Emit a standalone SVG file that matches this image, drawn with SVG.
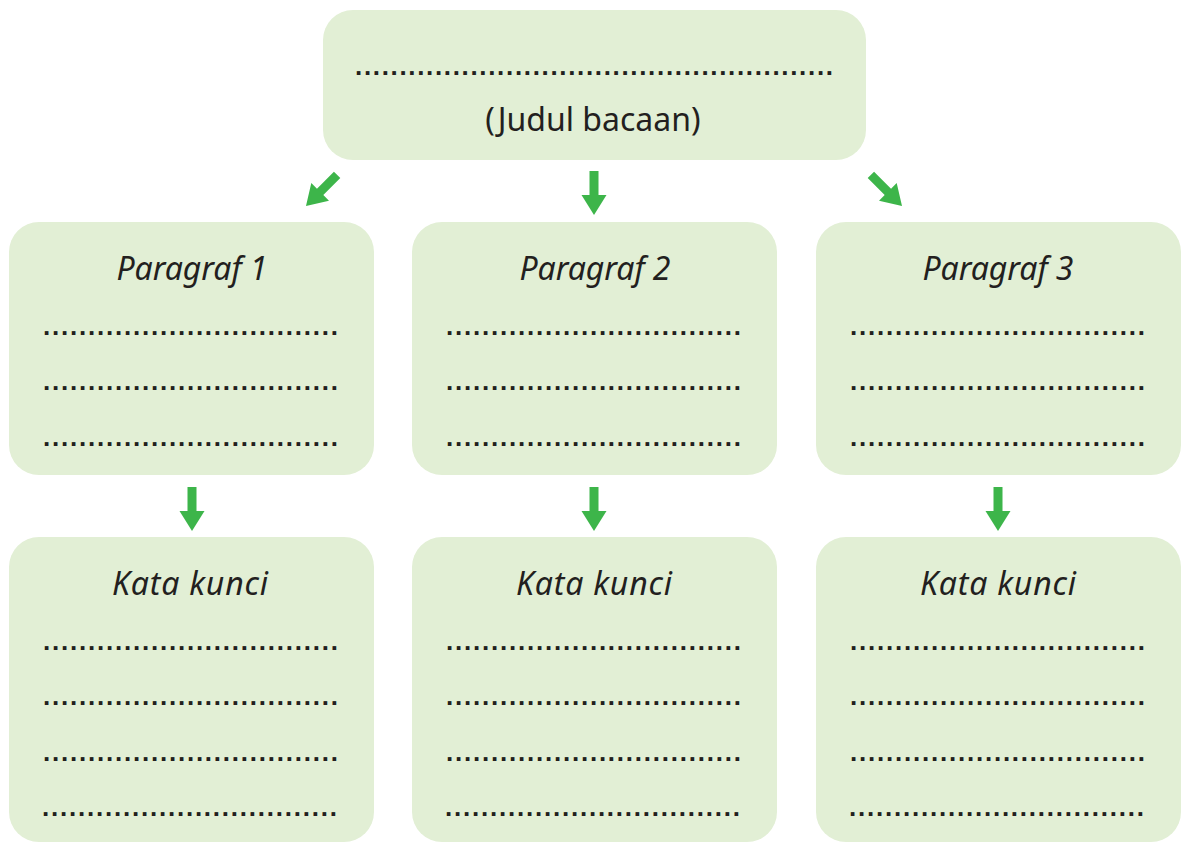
<svg xmlns="http://www.w3.org/2000/svg" xmlns:xlink="http://www.w3.org/1999/xlink" width="1183" height="843" viewBox="0 0 1183 843">
<style>
.box{fill:#e2efd5;}
.dots{font-family:"Liberation Sans",Arial,sans-serif;font-size:26px;font-weight:bold;fill:#231f20;}
.title{font-family:"Noto Sans","Open Sans",sans-serif;font-size:32px;fill:#231f20;text-anchor:middle;}
.head{font-family:"Noto Sans","Open Sans",sans-serif;font-size:32px;font-style:italic;fill:#231f20;text-anchor:middle;}
.arrow{fill:#3db54a;}
</style>
<defs>
<path id="arr" class="arrow" d="M-4.5,-44 H4.5 V-20 H12.5 L0,0 L-12.5,-20 H-4.5 Z"/>
</defs>
<rect width="1183" height="843" fill="#ffffff"/>

<g id="judul">
<rect class="box" x="323" y="10" width="543" height="150" rx="30"/>
<text class="dots" x="355" y="75" textLength="478">......................................................</text>
<text class="title" x="593" y="131">(Judul bacaan)</text>
</g>

<g id="paragraf1">
<rect class="box" x="9" y="222" width="365" height="253" rx="30"/>
<text class="head" x="192" y="280" textLength="151">Paragraf 1</text>
<text class="dots" x="43" y="334.5" textLength="295">.................................</text>
<text class="dots" x="43" y="390" textLength="295">.................................</text>
<text class="dots" x="43" y="446" textLength="295">.................................</text>
</g>
<g id="paragraf2">
<rect class="box" x="412" y="222" width="365" height="253" rx="30"/>
<text class="head" x="595" y="280" textLength="151">Paragraf 2</text>
<text class="dots" x="446" y="334.5" textLength="295">.................................</text>
<text class="dots" x="446" y="390" textLength="295">.................................</text>
<text class="dots" x="446" y="446" textLength="295">.................................</text>
</g>
<g id="paragraf3">
<rect class="box" x="816" y="222" width="365" height="253" rx="30"/>
<text class="head" x="998" y="280" textLength="151">Paragraf 3</text>
<text class="dots" x="850" y="334.5" textLength="295">.................................</text>
<text class="dots" x="850" y="390" textLength="295">.................................</text>
<text class="dots" x="850" y="446" textLength="295">.................................</text>
</g>

<g id="kata1">
<rect class="box" x="9" y="537" width="365" height="305" rx="30"/>
<text class="head" x="190" y="595" textLength="156">Kata kunci</text>
<text class="dots" x="43" y="650" textLength="295">.................................</text>
<text class="dots" x="43" y="705" textLength="295">.................................</text>
<text class="dots" x="43" y="761" textLength="295">.................................</text>
<text class="dots" x="42" y="816" textLength="295">.................................</text>
</g>
<g id="kata2">
<rect class="box" x="412" y="537" width="365" height="305" rx="30"/>
<text class="head" x="594" y="595" textLength="156">Kata kunci</text>
<text class="dots" x="446" y="650" textLength="295">.................................</text>
<text class="dots" x="446" y="705" textLength="295">.................................</text>
<text class="dots" x="446" y="761" textLength="295">.................................</text>
<text class="dots" x="445" y="816" textLength="295">.................................</text>
</g>
<g id="kata3">
<rect class="box" x="816" y="537" width="365" height="305" rx="30"/>
<text class="head" x="998" y="595" textLength="156">Kata kunci</text>
<text class="dots" x="850" y="650" textLength="295">.................................</text>
<text class="dots" x="850" y="705" textLength="295">.................................</text>
<text class="dots" x="850" y="761" textLength="295">.................................</text>
<text class="dots" x="849" y="816" textLength="295">.................................</text>
</g>

<g id="connectors">
<use xlink:href="#arr" href="#arr" transform="translate(306,206) rotate(45)"/>
<use xlink:href="#arr" href="#arr" transform="translate(594,215)"/>
<use xlink:href="#arr" href="#arr" transform="translate(902,206) rotate(-45)"/>
<use xlink:href="#arr" href="#arr" transform="translate(192,531)"/>
<use xlink:href="#arr" href="#arr" transform="translate(594,531)"/>
<use xlink:href="#arr" href="#arr" transform="translate(998,531)"/>
</g>
</svg>
